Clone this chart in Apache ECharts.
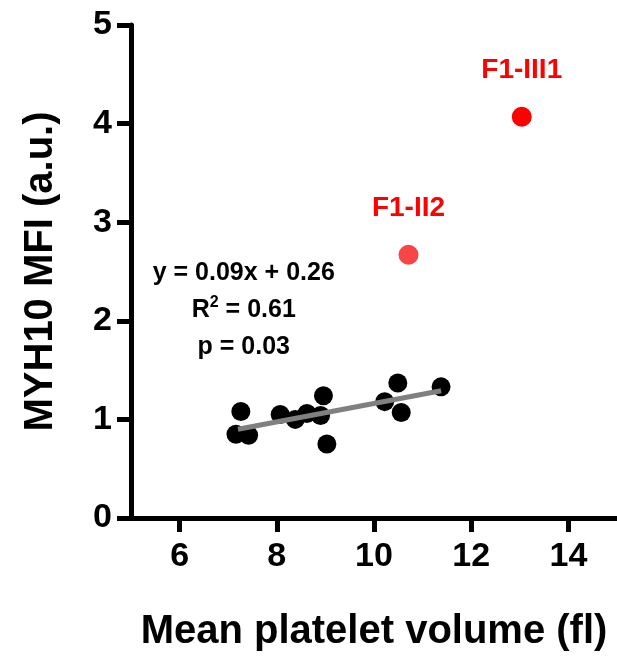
<!DOCTYPE html>
<html>
<head>
<meta charset="utf-8">
<script src="https://cdn.jsdelivr.net/npm/echarts@6/dist/echarts.min.js"></script>
<style>
html,body{margin:0;padding:0;background:#fff;}
#chart{width:617px;height:663px;}
</style>
</head>
<body>
<div id="chart"></div>
<script>
// Control subjects
var mpv = [7.26, 7.16, 7.42, 8.07, 8.38, 8.62, 8.90, 8.96, 9.03, 10.22, 10.49, 10.56, 11.38];
var mfi = [1.08, 0.85, 0.84, 1.05, 1.00, 1.06, 1.04, 1.24, 0.75, 1.18, 1.37, 1.07, 1.33];
// Patients
var patientNames = ['F1-II2', 'F1-III1'];
var patientMpv = [10.71, 13.04];
var patientMfi = [2.67, 4.07];
var patientColors = ['#F84545', '#FF0000'];
// Regression line endpoints
var fitX = [7.2, 11.38];
var fitY = [0.90, 1.29];
// Ticks
var xTicks = [6, 8, 10, 12, 14];
var yTicks = [0, 1, 2, 3, 4, 5];

var FONT = '"Liberation Sans", Arial, Helvetica, sans-serif';

var chart = echarts.init(document.getElementById('chart'), null, {renderer: 'canvas'});

var option = {
  backgroundColor: '#ffffff',
  animation: false,
  grid: {left: 131, top: 25, width: 492, height: 493, containLabel: false},
  xAxis: {
    type: 'value',
    min: 5, max: 15,
    name: 'Mean platelet volume (fl)',
    nameLocation: 'middle',
    nameGap: 94,
    nameTextStyle: {fontFamily: FONT, fontWeight: 'bold', fontSize: 40, color: '#000'},
    axisLine: {show: true, onZero: false, lineStyle: {color: '#000', width: 5}},
    axisTick: {show: true, length: 14, customValues: xTicks, lineStyle: {color: '#000', width: 5}},
    axisLabel: {show: true, customValues: xTicks, margin: 22, fontFamily: FONT, fontWeight: 'bold', fontSize: 34, color: '#000'},
    splitLine: {show: false}
  },
  yAxis: {
    type: 'value',
    min: 0, max: 5, interval: 1,
    name: 'MYH10 MFI (a.u.)',
    nameLocation: 'middle',
    nameGap: 70,
    nameTextStyle: {fontFamily: FONT, fontWeight: 'bold', fontSize: 40, color: '#000'},
    axisLine: {show: true, onZero: false, lineStyle: {color: '#000', width: 5}},
    axisTick: {show: true, length: 14, lineStyle: {color: '#000', width: 5}},
    axisLabel: {show: true, margin: 19, fontFamily: FONT, fontWeight: 'bold', fontSize: 34, color: '#000',
      formatter: function (v) { return yTicks.indexOf(v) >= 0 ? String(v) : ''; }},
    splitLine: {show: false}
  },
  series: [
    {
      type: 'scatter',
      symbol: 'circle',
      symbolSize: 19,
      itemStyle: {color: '#000', opacity: 1},
      z: 2,
      data: mpv.map(function (x, i) { return [x, mfi[i]]; })
    },
    {
      type: 'line',
      symbol: 'none',
      lineStyle: {color: '#808080', width: 5, opacity: 1},
      z: 3,
      data: fitX.map(function (x, i) { return [x, fitY[i]]; })
    },
    {
      type: 'scatter',
      symbol: 'circle',
      symbolSize: 20,
      z: 4,
      itemStyle: {opacity: 1},
      label: {
        show: true, position: 'top', distance: 22,
        fontFamily: FONT, fontWeight: 'bold', fontSize: 28, color: '#FF0000',
        formatter: function (p) { return patientNames[p.dataIndex]; }
      },
      data: patientMpv.map(function (x, i) {
        return {value: [x, patientMfi[i]], itemStyle: {color: patientColors[i], opacity: 1}};
      })
    },
    {
      type: 'scatter',
      symbolSize: 0,
      silent: true,
      z: 5,
      itemStyle: {opacity: 1},
      label: {
        show: true, position: 'inside', align: 'center', verticalAlign: 'middle',
        formatter: '{t|y = 0.09x + 0.26}\n{t|R}{s|2}{t| = 0.61}\n{t|p = 0.03}',
        rich: {
          t: {fontFamily: FONT, fontWeight: 'bold', fontSize: 25, color: '#000', lineHeight: 37, align: 'center'},
          s: {fontFamily: FONT, fontWeight: 'bold', fontSize: 16, color: '#000', lineHeight: 37, padding: [0, 0, 14, 0], align: 'center'}
        }
      },
      data: [[7.32, 2.11]]
    }
  ]
};
chart.setOption(option);
</script>
</body>
</html>
